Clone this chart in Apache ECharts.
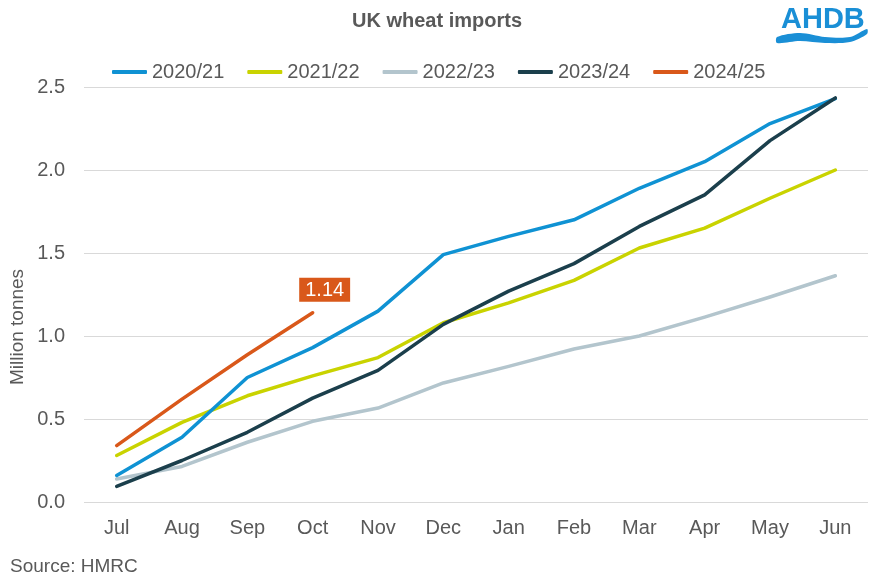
<!DOCTYPE html>
<html>
<head>
<meta charset="utf-8">
<script src="https://cdn.jsdelivr.net/npm/echarts@6/dist/echarts.min.js"></script>
<style>html,body{margin:0;padding:0;background:#fff}#c{width:874px;height:576px}</style>
</head>
<body>
<div id="c"></div>
<script>
const months = ['Jul','Aug','Sep','Oct','Nov','Dec','Jan','Feb','Mar','Apr','May','Jun'];
const s2020 = [0.16,0.39,0.75,0.93,1.15,1.49,1.60,1.70,1.89,2.05,2.28,2.43];
const s2021 = [0.28,0.48,0.64,0.76,0.87,1.08,1.20,1.335,1.53,1.65,1.83,2.00];
const s2022 = [0.138,0.214,0.36,0.486,0.566,0.717,0.817,0.922,1.00,1.114,1.235,1.363];
const s2023 = [0.094,0.25,0.42,0.626,0.793,1.07,1.27,1.436,1.66,1.85,2.177,2.434];
const s2024 = [0.34,0.62,0.887,1.14];
const yTicks = [0,0.5,1.0,1.5,2.0,2.5];

const txt = '#595959';
const font = 'Liberation Sans, Arial, sans-serif';
const chart = echarts.init(document.getElementById('c'));
function ser(name, data, color, z){
  return {name, type:'line', data, symbol:'none', z, lineStyle:{width:3.5, color, cap:'round', join:'round'}, itemStyle:{color}};
}
const last = s2024.length - 1;
const s2024Items = s2024.map((v, i) => i === last ? {value: v, label: {show: true}} : v);
chart.setOption({
  animation:false,
  title:{text:'UK wheat imports', left:'center', top:6, textStyle:{color:txt, fontSize:20, fontWeight:'bold', fontFamily:font}},
  legend:{top:57, left:107, itemWidth:35, itemHeight:4, itemGap:23, icon:'roundRect',
    textStyle:{color:txt, fontSize:20, fontFamily:font},
    data:['2020/21','2021/22','2022/23','2023/24','2024/25']},
  grid:{left:84, right:6, top:87, bottom:74, containLabel:false},
  xAxis:{type:'category', data:months, boundaryGap:true,
    axisLine:{show:false}, axisTick:{show:false},
    axisLabel:{color:txt, fontSize:20, fontFamily:font, margin:16}},
  yAxis:{type:'value', min:yTicks[0], max:yTicks[yTicks.length-1], interval:0.5,
    axisLabel:{color:txt, fontSize:20, fontFamily:font, margin:19, formatter:v=>v.toFixed(1)},
    splitLine:{lineStyle:{color:'#d9d9d9', width:1.2}}},
  series:[
    ser('2020/21', s2020, '#0f92d3', 3),
    ser('2021/22', s2021, '#c9d300', 2),
    ser('2022/23', s2022, '#b3c5cd', 1),
    ser('2023/24', s2023, '#1b3f4c', 4),
    Object.assign(ser('2024/25', s2024Items, '#d9581a', 5), {
      symbol:'circle', symbolSize:0, showSymbol:true,
      label:{show:false, formatter:p=>Number(p.value).toFixed(2), position:'top', distance:5,
        offset:[12,-6], color:'#fff', fontSize:20, fontFamily:font, backgroundColor:'#d9581a', padding:[3,6,1,6]}
    })
  ],
  graphic:{elements:[
    {type:'text', x:18, y:327, rotation:Math.PI/2, style:{text:'Million tonnes', fill:txt, fontSize:19, fontFamily:font, align:'center', verticalAlign:'middle'}},
    {type:'text', left:10, top:557, style:{text:'Source: HMRC', fill:txt, fontSize:19, fontFamily:font}},
    {type:'text', left:781, top:5, style:{text:'AHDB', fill:'#1a8fd6', fontSize:29, fontWeight:'bold', fontFamily:font}},
    {type:'polygon', shape:{smooth:0.3, points:[[777,37],[800,33],[825,37],[850,37],[867,29],[867,34],[850,42],[825,43],[800,41],[777,43]]},
      style:{fill:'#1a8fd6'}}
  ]}
});
</script>
</body>
</html>
